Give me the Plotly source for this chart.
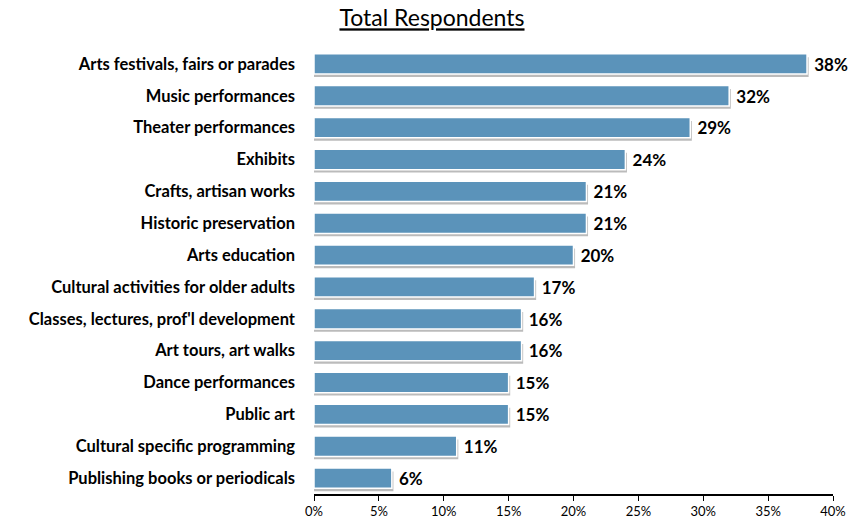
import plotly.graph_objects as go

categories = [
    "Arts festivals, fairs or parades",
    "Music performances",
    "Theater performances",
    "Exhibits",
    "Crafts, artisan works",
    "Historic preservation",
    "Arts education",
    "Cultural activities for older adults",
    "Classes, lectures, prof'l development",
    "Art tours, art walks",
    "Dance performances",
    "Public art",
    "Cultural specific programming",
    "Publishing books or periodicals",
]
values = [38, 32, 29, 24, 21, 21, 20, 17, 16, 16, 15, 15, 11, 6]
tick_vals = [0, 5, 10, 15, 20, 25, 30, 35, 40]
tick_text = [f"{v}%" for v in tick_vals]

n = len(categories)
ypos = list(range(n - 1, -1, -1))
FONT = "Lato, Open Sans, Arial"

fig = go.Figure()
# soft drop shadow behind each bar
fig.add_trace(go.Bar(
    x=[v + 0.12 for v in values],
    y=[p - 0.1 for p in ypos],
    orientation="h",
    width=0.62,
    marker=dict(color="rgba(60,60,60,0.35)", line=dict(width=0)),
    hoverinfo="skip",
    showlegend=False,
))
fig.add_trace(go.Bar(
    x=values,
    y=ypos,
    orientation="h",
    width=0.64,
    marker=dict(color="#5b93ba", line=dict(color="white", width=1.5)),
    text=[f" {v}%" for v in values],
    textposition="outside",
    textfont=dict(family=FONT, size=20, color="black", weight="bold"),
    cliponaxis=False,
    showlegend=False,
))

fig.update_layout(
    barmode="overlay",
    width=864,
    height=523,
    margin=dict(l=314, r=31, t=48, b=29),
    paper_bgcolor="white",
    plot_bgcolor="white",
    font=dict(family=FONT, color="black"),
    title=dict(
        text="<u>Total Respondents</u>",
        x=0.5,
        xanchor="center",
        y=0.965,
        yanchor="middle",
        font=dict(size=23, color="black"),
    ),
)
fig.update_xaxes(
    range=[0, 40],
    tickvals=tick_vals,
    ticktext=tick_text,
    showgrid=False,
    zeroline=False,
    showline=True,
    linecolor="black",
    linewidth=1.5,
    ticks="outside",
    ticklen=5,
    tickcolor="black",
    tickfont=dict(size=13),
    automargin=False,
)
fig.update_yaxes(
    range=[-0.5, n - 0.5],
    tickvals=ypos,
    ticktext=categories,
    showgrid=False,
    zeroline=False,
    showline=False,
    ticks="",
    ticklabelstandoff=18,
    tickfont=dict(size=16.5, weight="bold"),
    automargin=False,
)

# drop the page's default body margin so the figure sits at the window corner
fig.write_html(
    "out.html",
    config={"displayModeBar": False},
    post_script="document.body.style.margin='0px';",
)
